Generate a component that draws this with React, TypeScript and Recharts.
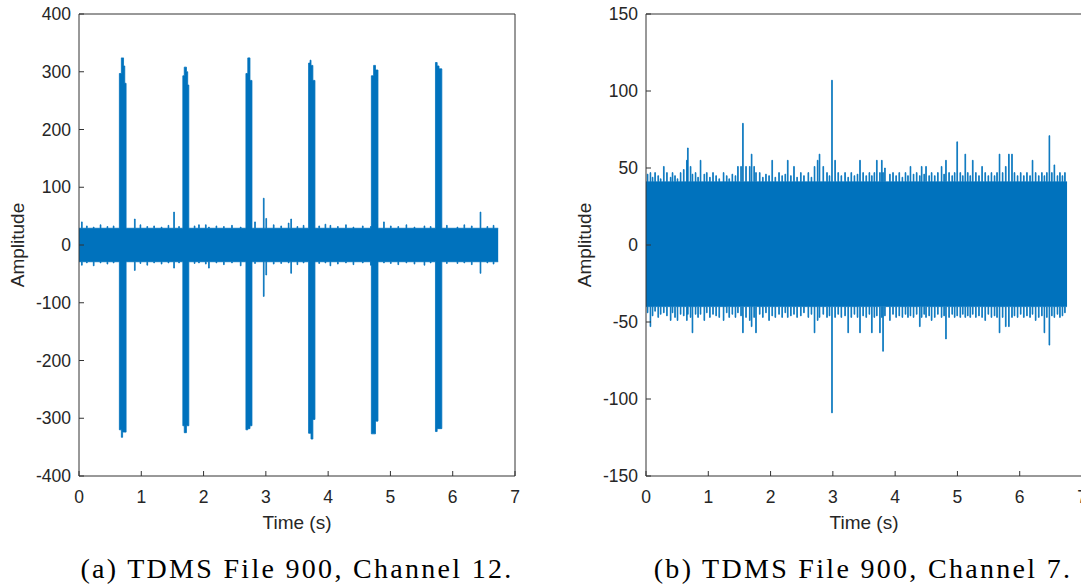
import { ComposedChart, Area, XAxis, YAxis } from "recharts";

// Channel 12: noise floor, thin spikes (time s, upper, lower) and the six wide bursts
const ch12End = 6.73;
const ch12BaseHigh = 29;
const ch12BaseLow = -29;
const ch12SpikeTime = [
  0.04, 0.12, 0.23, 0.34, 0.45, 0.55, 0.89, 0.98, 1.09, 1.2, 1.32, 1.43, 1.52, 1.6, 1.85, 1.92, 2.03,
  2.08, 2.2, 2.32, 2.45, 2.59, 2.82, 2.96, 3.0, 3.12, 3.24, 3.36, 3.4, 3.5, 3.6, 3.85, 3.95, 4.03,
  4.15, 4.28, 4.4, 4.55, 4.68, 4.89, 5.0, 5.12, 5.25, 5.38, 5.54, 5.64, 5.9, 6.07, 6.18, 6.3, 6.44,
  6.55, 6.65,
];
const ch12SpikeHigh = [
  40, 33, 31, 35, 32, 33, 45, 35, 32, 33, 31, 34, 57, 32, 33, 35, 35,
  31, 33, 32, 34, 31, 40, 81, 46, 35, 33, 38, 45, 32, 34, 33, 36, 34,
  32, 35, 31, 33, 32, 40, 33, 32, 35, 31, 33, 32, 34, 31, 35, 33, 57,
  32, 34,
];
const ch12SpikeLow = [
  -35, -31, -36, -31, -33, -31, -44, -32, -35, -31, -33, -31, -40, -31, -32, -31, -33,
  -40, -31, -34, -31, -36, -32, -89, -52, -33, -32, -31, -49, -34, -31, -32, -31, -36,
  -33, -31, -34, -31, -35, -31, -32, -34, -31, -33, -35, -31, -32, -32, -31, -34, -49,
  -31, -33,
];
// bursts: each step holds until the next one, the last time of a burst closes it
const ch12BurstTime = [
  [0.648, 0.68, 0.7, 0.715, 0.735, 0.756],
  [1.667, 1.69, 1.725, 1.745, 1.763],
  [2.68, 2.71, 2.745, 2.777],
  [3.686, 3.71, 3.725, 3.755, 3.788],
  [4.694, 4.73, 4.76, 4.8],
  [5.723, 5.75, 5.78, 5.825],
];
const ch12BurstHigh = [
  [297, 324, 324, 310, 280],
  [293, 308, 300, 277],
  [297, 324, 285],
  [315, 320, 311, 285],
  [293, 311, 303],
  [316, 310, 305],
];
const ch12BurstLow = [
  [-320, -333, -324, -324, -324],
  [-313, -325, -313, -313],
  [-320, -318, -313],
  [-326, -326, -336, -302],
  [-327, -327, -305],
  [-323, -318, -318],
];

// Channel 7: noise floor and thin spikes (time s, upper, lower)
const ch7End = 6.76;
const ch7BaseHigh = 41;
const ch7BaseLow = -40;
const ch7SpikeTime = [
  0.02, 0.065, 0.1, 0.14, 0.19, 0.23, 0.28, 0.33, 0.39, 0.42, 0.46, 0.5, 0.55, 0.6, 0.65, 0.666, 0.71,
  0.74, 0.79, 0.83, 0.87, 0.93, 0.97, 1.02, 1.07, 1.12, 1.17, 1.24, 1.29, 1.33, 1.38, 1.43, 1.47,
  1.52, 1.55, 1.6, 1.66, 1.69, 1.73, 1.76, 1.82, 1.87, 1.92, 1.97, 2.02, 2.07, 2.13, 2.18, 2.23,
  2.27, 2.32, 2.37, 2.42, 2.48, 2.53, 2.6, 2.65, 2.7, 2.75, 2.78, 2.84, 2.9, 2.94, 2.98, 3.03,
  3.08, 3.13, 3.19, 3.24, 3.29, 3.34, 3.39, 3.43, 3.48, 3.53, 3.58, 3.62, 3.66, 3.7, 3.75, 3.78,
  3.8, 3.83, 3.91, 3.96, 4.01, 4.06, 4.11, 4.16, 4.2, 4.24, 4.29, 4.34, 4.39, 4.42, 4.46, 4.49,
  4.54, 4.58, 4.63, 4.68, 4.74, 4.78, 4.81, 4.86, 4.91, 4.95, 4.99, 5.04, 5.08, 5.12, 5.16, 5.2,
  5.24, 5.29, 5.34, 5.39, 5.44, 5.49, 5.54, 5.59, 5.63, 5.67, 5.72, 5.77, 5.82, 5.87, 5.91, 5.96,
  6.01, 6.06, 6.11, 6.16, 6.2, 6.25, 6.3, 6.35, 6.39, 6.43, 6.47, 6.51, 6.55, 6.6, 6.64, 6.68,
  6.72,
];
const ch7SpikeHigh = [
  46, 47, 44, 47, 45, 43, 51, 47, 44, 47, 45, 43, 47, 49, 55, 63, 51,
  46, 47, 44, 55, 46, 47, 44, 47, 45, 43, 47, 45, 43, 46, 45, 51,
  51, 79, 51, 51, 59, 51, 47, 47, 44, 46, 45, 55, 44, 47, 45, 46,
  55, 45, 51, 44, 47, 45, 47, 44, 51, 55, 59, 51, 47, 45, 107, 55,
  47, 45, 47, 44, 47, 45, 46, 55, 47, 45, 47, 45, 47, 55, 47, 55,
  47, 50, 46, 47, 45, 47, 44, 47, 45, 51, 46, 47, 45, 51, 46, 51,
  45, 47, 45, 47, 51, 46, 55, 47, 45, 47, 67, 47, 45, 59, 47, 45,
  55, 47, 45, 51, 47, 45, 47, 45, 47, 59, 47, 51, 59, 59, 47, 45,
  47, 45, 47, 45, 55, 47, 45, 47, 45, 47, 71, 47, 52, 45, 47, 45,
  47,
];
const ch7SpikeLow = [
  -44, -53, -46, -43, -47, -45, -44, -46, -49, -44, -47, -49, -45, -46, -49, -45, -47,
  -57, -45, -47, -45, -49, -44, -47, -45, -46, -47, -49, -44, -47, -45, -47, -44,
  -46, -57, -47, -49, -53, -47, -57, -45, -47, -44, -49, -46, -47, -45, -47, -44,
  -47, -46, -45, -47, -46, -44, -47, -45, -57, -49, -47, -45, -47, -46, -109, -47,
  -45, -47, -46, -57, -47, -45, -47, -57, -46, -47, -45, -57, -47, -46, -57, -47,
  -69, -46, -49, -45, -47, -46, -47, -45, -47, -46, -47, -45, -53, -47, -45, -47,
  -46, -49, -47, -45, -47, -46, -61, -47, -45, -47, -46, -47, -45, -47, -46, -47,
  -45, -47, -46, -47, -49, -45, -47, -46, -47, -57, -47, -53, -53, -47, -46, -47,
  -45, -47, -46, -47, -45, -49, -47, -46, -57, -47, -65, -46, -47, -45, -47, -46,
  -44,
];

const timeTicks = [0, 1, 2, 3, 4, 5, 6, 7];
const ch12Ticks = [-400, -300, -200, -100, 0, 100, 200, 300, 400];
const ch7Ticks = [-150, -100, -50, 0, 50, 100, 150];

const ch12Caption = "(a) TDMS File 900, Channel 12.";
const ch7Caption = "(b) TDMS File 900, Channel 7.";

const BLUE = "#0072BD";
const INK = "#262626";
const AXIS = "#333333";
const SPIKE_WIDTH = 0.012;
const tickFont = { fontSize: 17.5, fill: INK, fontFamily: "Liberation Sans, Arial, sans-serif" };
const labelFont = { fontSize: 19, fill: INK, fontFamily: "Liberation Sans, Arial, sans-serif" };

type Step = { t: number; hi: number; lo: number };

// turns the read envelope into points with vertical edges, so a linear area draws square steps
const buildSteps = (
  end: number,
  baseHigh: number,
  baseLow: number,
  spikeTime: number[],
  spikeHigh: number[],
  spikeLow: number[],
  burstTime: number[][] = [],
  burstHigh: number[][] = [],
  burstLow: number[][] = []
) => {
  const base = { hi: baseHigh, lo: baseLow };
  const events: { t: number; steps: Step[] }[] = [];
  spikeTime.forEach((t, i) =>
    events.push({
      t,
      steps: [
        { t, hi: spikeHigh[i], lo: spikeLow[i] },
        { t: t + SPIKE_WIDTH, ...base },
      ],
    })
  );
  burstTime.forEach((times, b) => {
    const steps: Step[] = burstHigh[b].map((h, k) => ({ t: times[k], hi: h, lo: burstLow[b][k] }));
    steps.push({ t: times[times.length - 1], ...base });
    events.push({ t: times[0], steps });
  });
  events.sort((a, b) => a.t - b.t);
  const steps: Step[] = [{ t: 0, ...base }];
  events.forEach((e) => steps.push(...e.steps));

  const out: Step[] = [];
  steps.forEach((s, i) => {
    if (i > 0) out.push({ t: s.t, hi: steps[i - 1].hi, lo: steps[i - 1].lo });
    out.push(s);
  });
  const last = steps[steps.length - 1];
  out.push({ t: end, hi: last.hi, lo: last.lo });
  return out;
};

const SignalPlot = ({ data, yTicks }: { data: Step[]; yTicks: number[] }) => {
  const yDomain = [yTicks[0], yTicks[yTicks.length - 1]];

  return (
    <ComposedChart width={530} height={536} data={data} margin={{ top: 13, right: 14, bottom: 0, left: 0 }}>
      <XAxis
        dataKey="t"
        type="number"
        domain={[0, 7]}
        ticks={timeTicks}
        interval={0}
        height={60}
        tickSize={-5}
        tickMargin={20}
        stroke={AXIS}
        tick={tickFont}
        label={{ value: "Time (s)", position: "insideBottom", offset: 7, style: labelFont }}
      />
      <XAxis
        xAxisId="top"
        dataKey="t"
        orientation="top"
        type="number"
        domain={[0, 7]}
        ticks={timeTicks}
        interval={0}
        height={1}
        tickSize={-5}
        tick={false}
        stroke={AXIS}
      />
      <YAxis
        type="number"
        domain={yDomain}
        ticks={yTicks}
        interval={0}
        width={79}
        tickSize={-5}
        tickMargin={13}
        stroke={AXIS}
        tick={tickFont}
        label={{
          value: "Amplitude",
          angle: -90,
          position: "insideLeft",
          offset: 17,
          style: { ...labelFont, textAnchor: "middle" },
        }}
      />
      <YAxis
        yAxisId="right"
        orientation="right"
        type="number"
        domain={yDomain}
        ticks={yTicks}
        interval={0}
        width={1}
        tickSize={-5}
        tick={false}
        stroke={AXIS}
      />
      <Area
        xAxisId="top"
        yAxisId="right"
        dataKey="hi"
        type="linear"
        stroke="none"
        fill="none"
        isAnimationActive={false}
      />
      <Area
        dataKey="hi"
        type="linear"
        baseValue={0}
        stroke={BLUE}
        strokeWidth={0.8}
        fill={BLUE}
        fillOpacity={1}
        isAnimationActive={false}
      />
      <Area
        dataKey="lo"
        type="linear"
        baseValue={0}
        stroke={BLUE}
        strokeWidth={0.8}
        fill={BLUE}
        fillOpacity={1}
        isAnimationActive={false}
      />
    </ComposedChart>
  );
};

const captionStyle = {
  position: "absolute" as const,
  top: 555,
  width: 520,
  textAlign: "center" as const,
  fontFamily: "Liberation Serif, Times New Roman, serif",
  fontSize: 28,
  lineHeight: "28px",
  letterSpacing: 2.3,
  color: "#000",
  whiteSpace: "nowrap" as const,
};

export default function App() {
  const ch12Data = buildSteps(
    ch12End,
    ch12BaseHigh,
    ch12BaseLow,
    ch12SpikeTime,
    ch12SpikeHigh,
    ch12SpikeLow,
    ch12BurstTime,
    ch12BurstHigh,
    ch12BurstLow
  );
  const ch7Data = buildSteps(ch7End, ch7BaseHigh, ch7BaseLow, ch7SpikeTime, ch7SpikeHigh, ch7SpikeLow);

  return (
    <div
      style={{
        position: "absolute",
        left: 0,
        top: 0,
        width: 1081,
        height: 587,
        overflow: "hidden",
        background: "#fff",
      }}
    >
      <div style={{ position: "absolute", left: 0, top: 0 }}>
        <SignalPlot data={ch12Data} yTicks={ch12Ticks} />
      </div>
      <div style={{ position: "absolute", left: 567, top: 0 }}>
        <SignalPlot data={ch7Data} yTicks={ch7Ticks} />
      </div>
      <div style={{ ...captionStyle, left: 297 - 260 }}>{ch12Caption}</div>
      <div style={{ ...captionStyle, left: 863 - 260 }}>{ch7Caption}</div>
    </div>
  );
}
